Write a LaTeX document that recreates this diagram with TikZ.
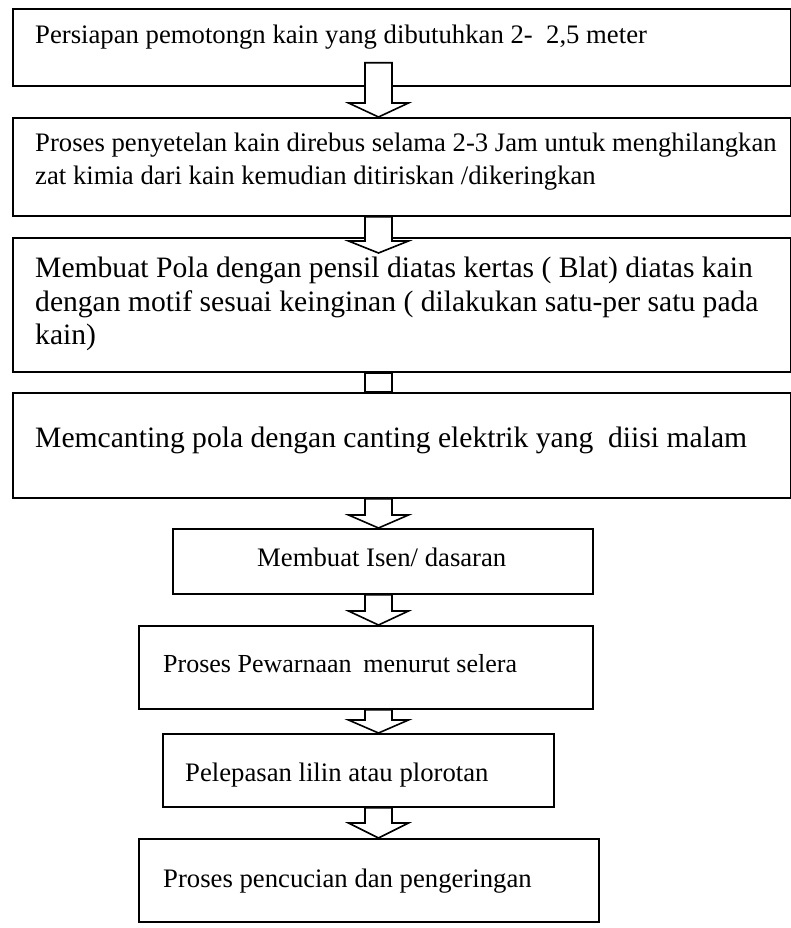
\documentclass[tikz,border=0pt]{standalone}
\usepackage{fontspec}
\setmainfont{Liberation Serif}
\usetikzlibrary{calc}
\newcommand\blkarrow[3]{%
  \draw[blk] let \p1=(#1), \p2=(#2) in
   (\x1-13.5pt,\y1) -- (\x1+13.5pt,\y1) -- (\x1+13.5pt,\y2+#3) -- (\x1+30pt,\y2+#3)
   -- (\x2,\y2) -- (\x1-30pt,\y2+#3) -- (\x1-13.5pt,\y2+#3) -- cycle;}
\begin{document}
\begin{tikzpicture}[x=1pt,y=-1pt,
  box/.style={draw, line width=1.8pt, fill=white, inner sep=0pt, anchor=north west},
  blk/.style={draw, line width=1.6pt, fill=white, line join=miter},
  sm/.style={anchor=base west, inner sep=0pt, font=\fontsize{26.7}{30}\selectfont},
  lg/.style={anchor=base west, inner sep=0pt, font=\fontsize{29.6}{34}\selectfont}]
\useasboundingbox (0,0) rectangle (791,928);
% boxes
\node[box, minimum width=778pt, minimum height=77pt]  (b1) at (12,8) {};
\node[box, minimum width=778pt, minimum height=98pt]  (b2) at (12,117) {};
\node[box, minimum width=778pt, minimum height=134pt] (b3) at (12,237) {};
\node[box, minimum width=778pt, minimum height=105pt] (b4) at (12,392) {};
\node[box, minimum width=420pt, minimum height=65pt]  (b5) at (172,528) {};
\node[box, minimum width=454pt, minimum height=83pt]  (b6) at (138,625) {};
\node[box, minimum width=391pt, minimum height=73pt]  (b7) at (162,733) {};
\node[box, minimum width=460pt, minimum height=83pt]  (b8) at (138,838) {};
% block arrows
\coordinate (ax) at (378.5,0);
\coordinate (s1) at ($(ax |- b1.south)+(0,-24)$);
\coordinate (e2) at ($(ax |- b3.north)+(0,16)$);
\blkarrow{s1}{ax |- b2.north}{14pt}
\blkarrow{ax |- b2.south}{e2}{12pt}
\draw[blk] let \p1=(ax |- b3.south), \p2=(ax |- b4.north) in
  (\x1-13.5pt,\y1) rectangle (\x1+13.5pt,\y2);
\blkarrow{ax |- b4.south}{ax |- b5.north}{13pt}
\blkarrow{ax |- b5.south}{ax |- b6.north}{14pt}
\blkarrow{ax |- b6.south}{ax |- b7.north}{13pt}
\blkarrow{ax |- b7.south}{ax |- b8.north}{15pt}
% texts
\node[sm] (t1) at (35,43.5) {Persiapan pemotongn kain yang dibutuhkan 2-\ \ 2,5 meter};
\node[sm] (t2a) at (35,152) {Proses penyetelan kain direbus selama 2-3 Jam untuk menghilangkan};
\node[sm] (t2b) at (35,185) {zat kimia dari kain kemudian ditiriskan /dikeringkan};
\node[lg] (t3a) at (35,277) {Membuat Pola dengan pensil diatas kertas ( Blat) diatas kain};
\node[lg] (t3b) at (35,311) {dengan motif sesuai keinginan ( dilakukan satu-per satu pada};
\node[lg] (t3c) at (35,344) {kain)};
\node[lg] (t4) at (35,447) {Memcanting pola dengan canting elektrik yang\ \ diisi malam};
\node[sm] (t5) at (257,566) {Membuat Isen/ dasaran};
\node[sm, font=\fontsize{26}{30}\selectfont] (t6) at (163,672) {Proses Pewarnaan\hspace{0.45em}menurut selera};
\node[sm] (t7) at (185,781) {Pelepasan lilin atau plorotan};
\node[sm] (t8) at (163,887) {Proses pencucian dan pengeringan};
\end{tikzpicture}
\end{document}
